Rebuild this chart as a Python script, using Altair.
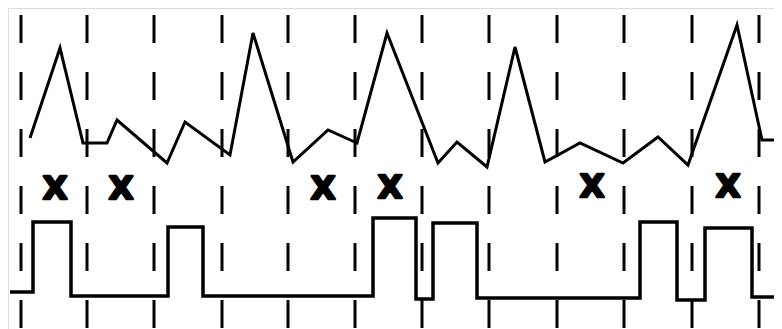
import altair as alt
import pandas as pd

# Positions of the dashed vertical timing lines (horizontal position, px units of the drawing)
grid_x = [21, 87, 154, 222, 288, 355, 422, 489, 557, 624, 692, 759]

# Upper jagged trace
top_x = [30, 60, 83, 107, 117, 167, 185, 230, 253, 293, 328, 357, 387,
         438, 457, 487, 515, 545, 580, 623, 658, 688, 737, 762, 790]
top_y = [138, 48, 143, 143, 120, 163, 122, 155, 33, 162, 130, 143, 33,
         163, 142, 167, 47, 162, 143, 163, 137, 165, 25, 140, 140]

# "X" markers (bottom edge of each glyph)
mark_x = [55, 121, 323, 390, 592, 728]
mark_y = [199, 199, 199, 198, 197, 197]

# Lower square wave
sq_x = [10, 33, 33, 71, 71, 168, 168, 203, 203, 373, 373, 416, 416, 433, 433,
        477, 477, 640, 640, 677, 677, 705, 705, 752, 752, 790]
sq_y = [292, 292, 222, 222, 296, 296, 227, 227, 296, 296, 218, 218, 299, 299, 223,
        223, 298, 298, 222, 222, 300, 300, 228, 228, 297, 297]

OFF = 8
W = 766
H = 321
xs = alt.Scale(domain=[OFF, OFF + W], range=[0, W], nice=False, zero=False)
ys = alt.Scale(domain=[OFF, OFF + H], range=[0, H], nice=False, zero=False)

grid_df = pd.DataFrame({"x": grid_x, "y0": [15] * len(grid_x), "y1": [340] * len(grid_x)})
top_df = pd.DataFrame({"x": top_x, "y": top_y, "i": range(len(top_x))})
mk_df = pd.DataFrame({"x": mark_x, "y": mark_y, "t": ["X"] * len(mark_x)})
sq_df = pd.DataFrame({"x": sq_x, "y": sq_y, "i": range(len(sq_x))})

grid = alt.Chart(grid_df).mark_rule(color="black", strokeWidth=3, strokeDash=[28, 29]).encode(
    x=alt.X("x:Q", scale=xs, axis=None),
    y=alt.Y("y0:Q", scale=ys, axis=None),
    y2="y1:Q",
)

top = alt.Chart(top_df).mark_line(color="black", strokeWidth=3, strokeJoin="miter", clip=True).encode(
    x=alt.X("x:Q", scale=xs, axis=None),
    y=alt.Y("y:Q", scale=ys, axis=None),
    order="i:Q",
)

sq = alt.Chart(sq_df).mark_line(color="black", strokeWidth=3.5, strokeJoin="miter", clip=True).encode(
    x=alt.X("x:Q", scale=xs, axis=None),
    y=alt.Y("y:Q", scale=ys, axis=None),
    order="i:Q",
)

marks = alt.Chart(mk_df).mark_text(
    font="DejaVu Sans", fontWeight="bold", fontSize=32, color="black",
    stroke="black", strokeWidth=2.5, strokeJoin="round",
    align="center", baseline="alphabetic",
).encode(
    x=alt.X("x:Q", scale=xs, axis=None),
    y=alt.Y("y:Q", scale=ys, axis=None),
    text="t:N",
)

chart = alt.layer(grid, top, sq, marks).properties(
    width=W, height=H, padding=0,
    autosize=alt.AutoSizeParams(type="none"),
).configure_view(strokeWidth=0, stroke="transparent").configure(background="white")

chart.save("out.html", embed_options={"renderer": "svg", "actions": False})
